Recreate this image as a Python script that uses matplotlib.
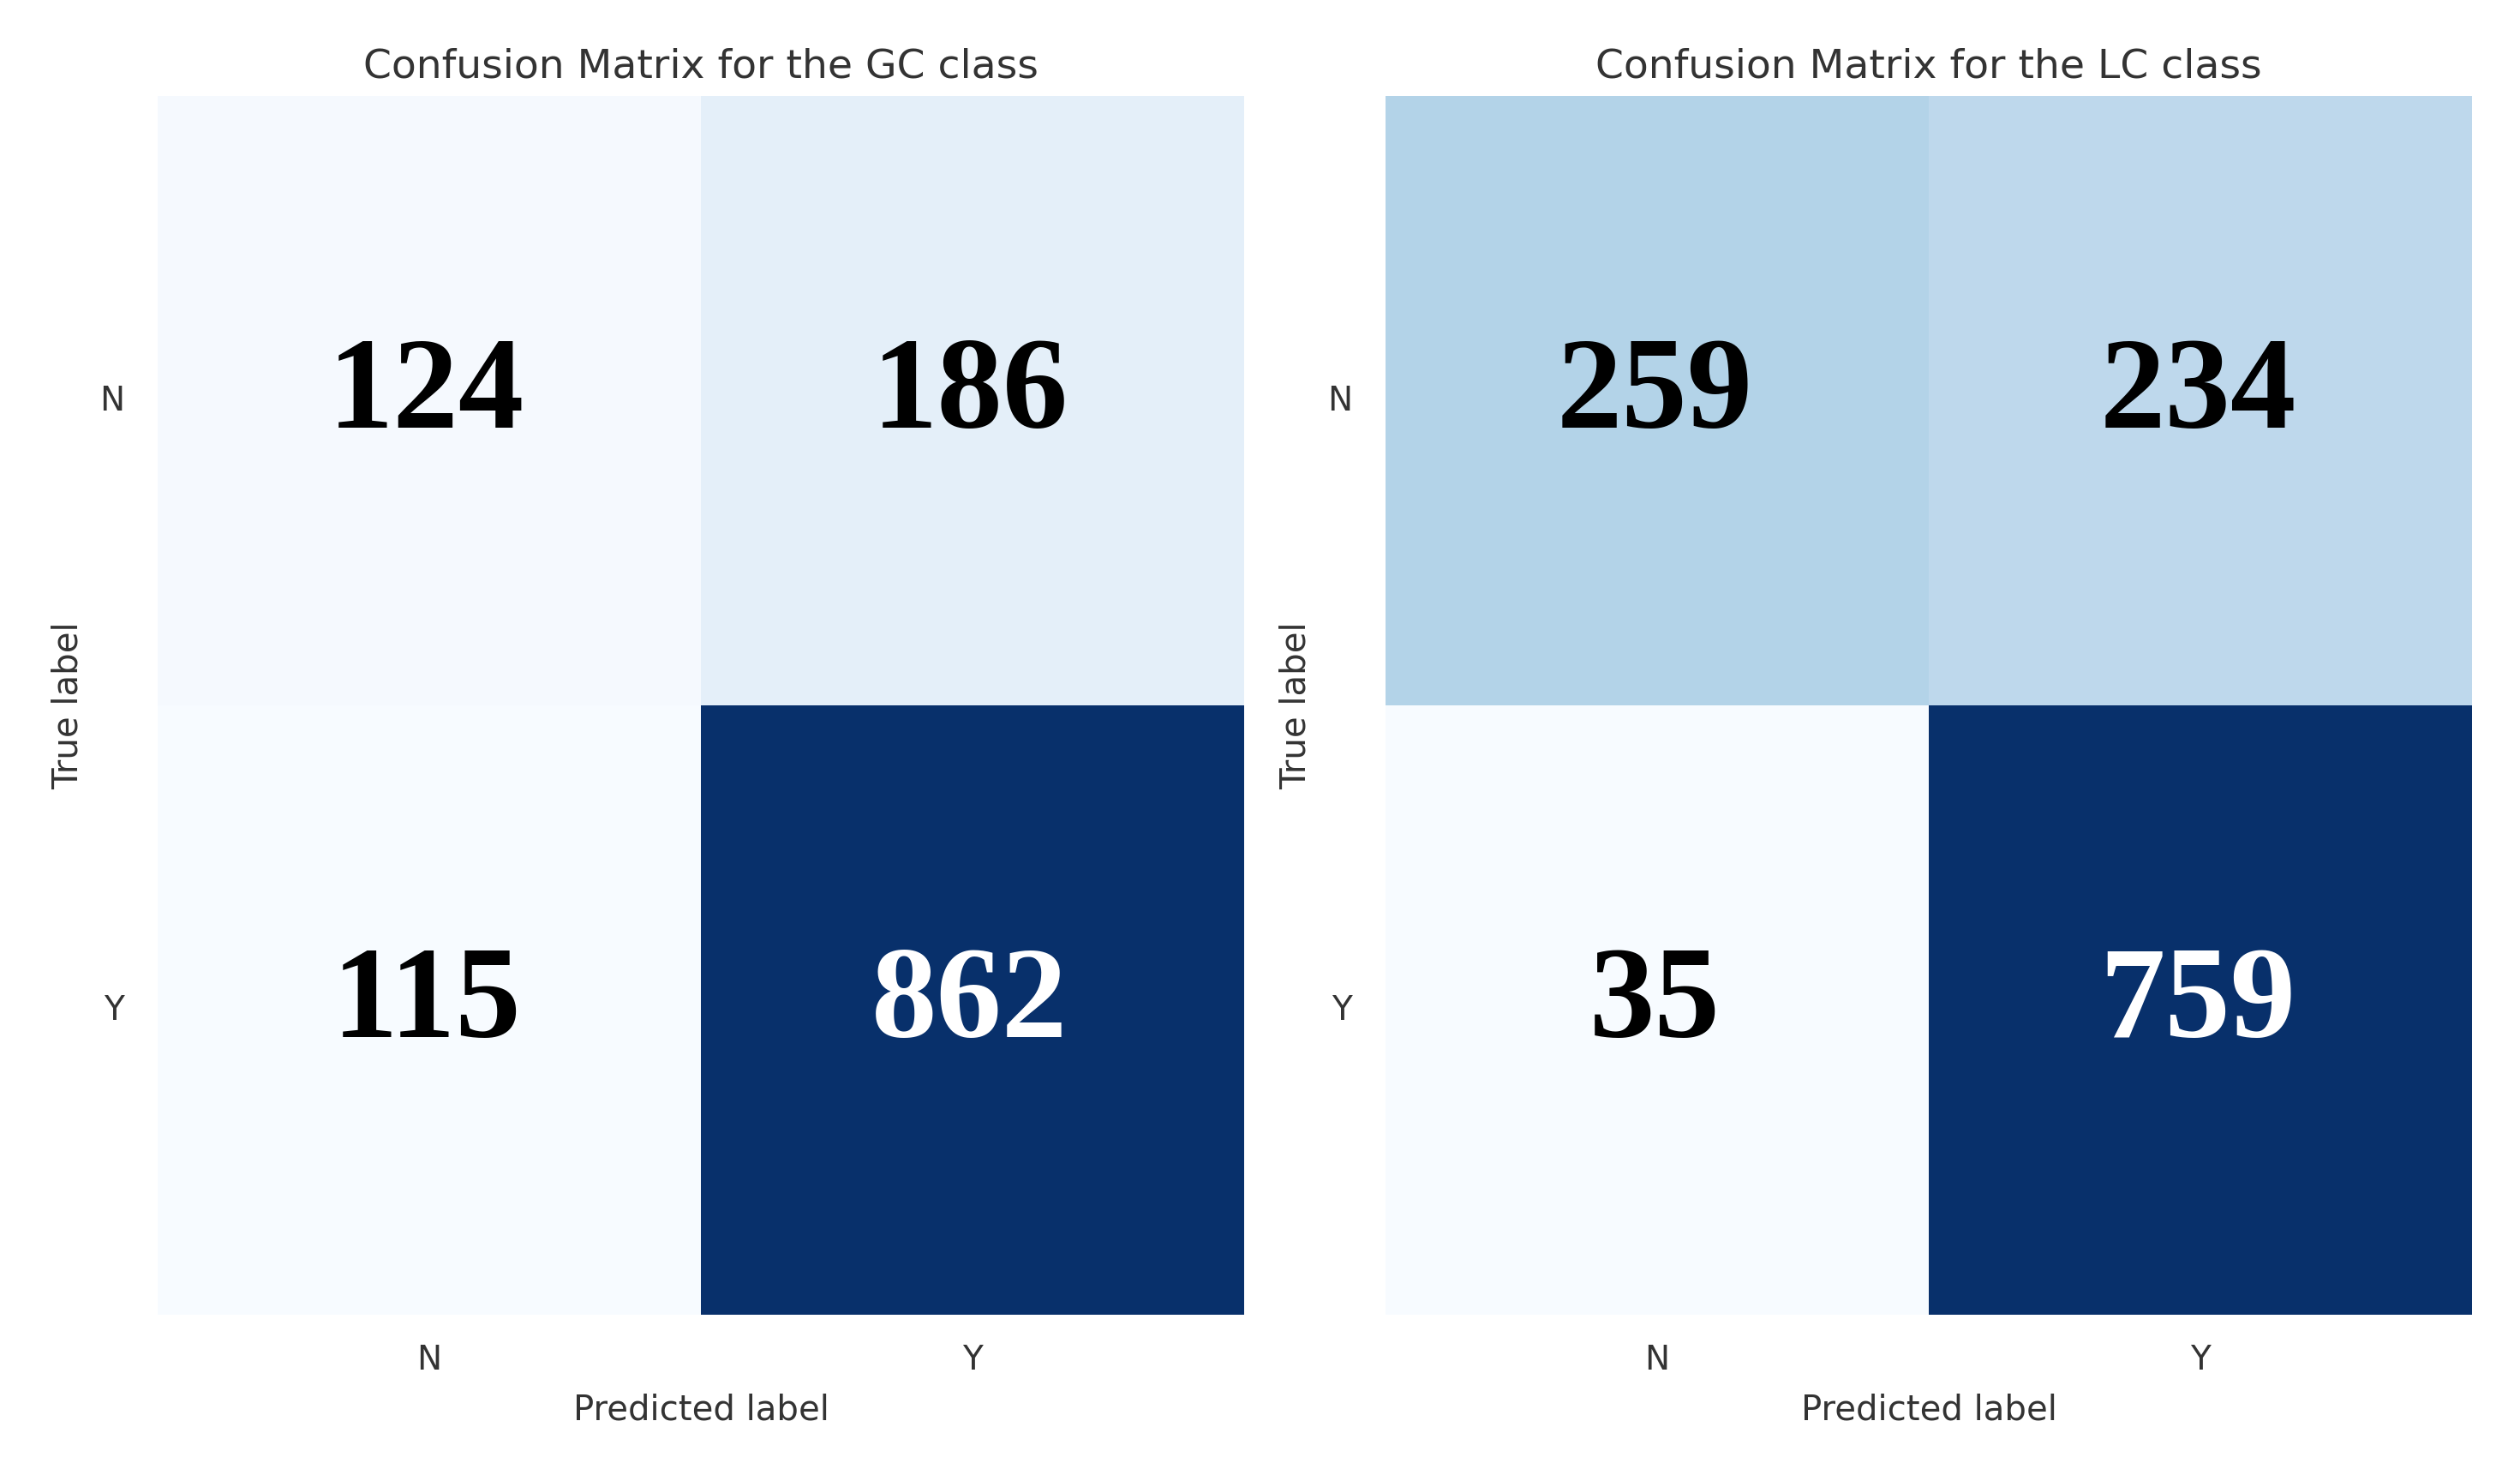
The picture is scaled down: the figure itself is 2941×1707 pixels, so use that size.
import numpy as np
import matplotlib
matplotlib.use("Agg")
import matplotlib.pyplot as plt
import seaborn as sns

# confusion matrices
labels = ["N", "Y"]
gc_matrix = [[124, 186],
             [115, 862]]
lc_matrix = [[259, 234],
             [35, 759]]
titles = ["Confusion Matrix for the GC class", "Confusion Matrix for the LC class"]

fig = plt.figure(figsize=(2941 / 200, 1708 / 200), dpi=200)
ax1 = fig.add_axes([0.0625, 0.1015, 0.4313, 0.8325])
ax2 = fig.add_axes([0.5498, 0.1015, 0.4313, 0.8325])

text_col = "#333333"
for ax, cm, title in zip([ax1, ax2], [gc_matrix, lc_matrix], titles):
    cm = np.array(cm)
    sns.heatmap(cm, ax=ax, cmap="Blues", cbar=False, annot=True, fmt="d",
                vmin=cm.min(), vmax=cm.max(),
                annot_kws={"family": ["Liberation Serif", "DejaVu Serif"],
                           "weight": "bold", "size": 55},
                xticklabels=labels, yticklabels=labels)
    # dark text on light cells, white on the darkest
    for t in ax.texts:
        v = int(t.get_text())
        t.set_color("white" if v == cm.max() else "black")
        x, y = t.get_position()
        t.set_position((x - 0.005, y - 0.008))
    ax.set_title(title, fontsize=17, color=text_col, pad=8)
    ax.set_xlabel("Predicted label", fontsize=14.5, color=text_col, labelpad=7)
    ax.set_ylabel("True label", fontsize=14.5, color=text_col, labelpad=6)
    ax.tick_params(axis="x", length=0, labelsize=14, colors=text_col, pad=12)
    ax.tick_params(axis="y", length=0, labelsize=14, colors=text_col, pad=14)
    plt.setp(ax.get_yticklabels(), rotation=0)

fig.savefig("out.png", dpi=200, facecolor="white")
